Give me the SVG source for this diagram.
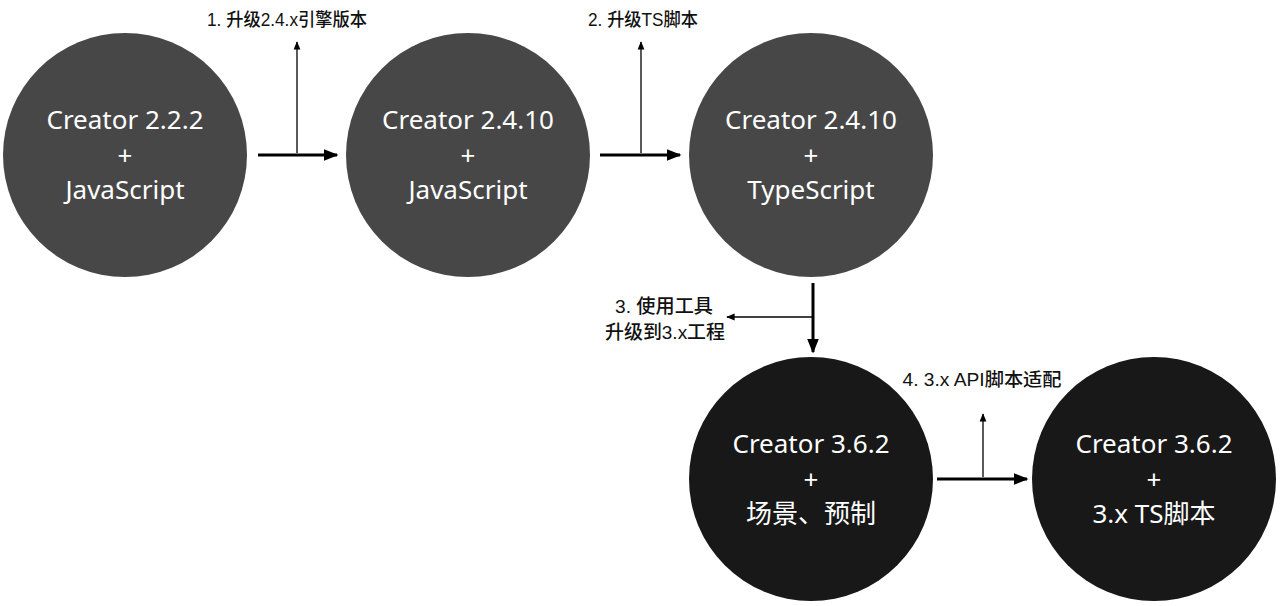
<svg xmlns="http://www.w3.org/2000/svg" width="1280" height="606" viewBox="0 0 1280 606">
<defs>
<style>
.top{fill:#474747}
.bot{fill:#181818}
.nt{fill:#fff;font-family:"Noto Sans","Noto Sans CJK SC",sans-serif;font-size:26px;text-anchor:middle}
.lb{fill:#111;font-family:"Liberation Sans","Noto Sans CJK SC",sans-serif;font-size:18px;font-weight:500;text-anchor:middle}
.lb3{font-size:19px}
.thick{stroke:#000;stroke-width:3;fill:none}
.thin{stroke:#000;stroke-width:1.3;fill:none}
</style>
<marker id="ah" viewBox="0 0 10 10" refX="9" refY="5" markerWidth="5" markerHeight="5" markerUnits="strokeWidth" orient="auto"><path d="M0,1 L10,5 L0,9 Z" fill="#000"/></marker>
<marker id="as" viewBox="0 0 10 10" refX="9" refY="5" markerWidth="6.5" markerHeight="6.5" markerUnits="strokeWidth" orient="auto"><path d="M0,1 L10,5 L0,9 Z" fill="#000"/></marker>
</defs>
<rect width="1280" height="606" fill="#fff"/>
<g id="n1"><circle class="top" cx="125" cy="155" r="122"/><text class="nt" x="125" y="129">Creator 2.2.2</text><text class="nt" x="125" y="165">+</text><text class="nt" x="125" y="199">JavaScript</text></g>
<g id="n2"><circle class="top" cx="468" cy="155" r="122"/><text class="nt" x="468" y="129">Creator 2.4.10</text><text class="nt" x="468" y="165">+</text><text class="nt" x="468" y="199">JavaScript</text></g>
<g id="n3"><circle class="top" cx="811" cy="155" r="122"/><text class="nt" x="811" y="129">Creator 2.4.10</text><text class="nt" x="811" y="165">+</text><text class="nt" x="811" y="199">TypeScript</text></g>
<g id="n4"><circle class="bot" cx="811" cy="479" r="122"/><text class="nt" x="811" y="453">Creator 3.6.2</text><text class="nt" x="811" y="489">+</text><text class="nt" x="811" y="523">场景、预制</text></g>
<g id="n5"><circle class="bot" cx="1154" cy="479" r="122"/><text class="nt" x="1154" y="453">Creator 3.6.2</text><text class="nt" x="1154" y="489">+</text><text class="nt" x="1154" y="523">3.x TS脚本</text></g>
<g id="connectors">
<line class="thick" x1="258" y1="155" x2="337" y2="155" marker-end="url(#ah)"/>
<line class="thin" x1="297" y1="153" x2="297" y2="42" marker-end="url(#as)"/>
<line class="thick" x1="600" y1="155" x2="680" y2="155" marker-end="url(#ah)"/>
<line class="thin" x1="641" y1="153" x2="641" y2="42" marker-end="url(#as)"/>
<line class="thick" x1="813" y1="283" x2="813" y2="352" marker-end="url(#ah)"/>
<line class="thin" x1="812" y1="317" x2="727" y2="317" marker-end="url(#as)"/>
<line class="thick" x1="937" y1="479" x2="1027" y2="479" marker-end="url(#ah)"/>
<line class="thin" x1="983" y1="477" x2="983" y2="414" marker-end="url(#as)"/>
</g>
<g id="labels">
<text class="lb" x="287" y="26" textLength="160" lengthAdjust="spacingAndGlyphs">1. 升级2.4.x引擎版本</text>
<text class="lb" x="643" y="26" textLength="110" lengthAdjust="spacingAndGlyphs">2. 升级TS脚本</text>
<text class="lb lb3" x="664" y="313" textLength="98" lengthAdjust="spacingAndGlyphs">3. 使用工具</text>
<text class="lb lb3" x="665" y="339" textLength="120" lengthAdjust="spacingAndGlyphs">升级到3.x工程</text>
<text class="lb" x="982" y="386" textLength="159" lengthAdjust="spacingAndGlyphs">4. 3.x API脚本适配</text>
</g>
</svg>
